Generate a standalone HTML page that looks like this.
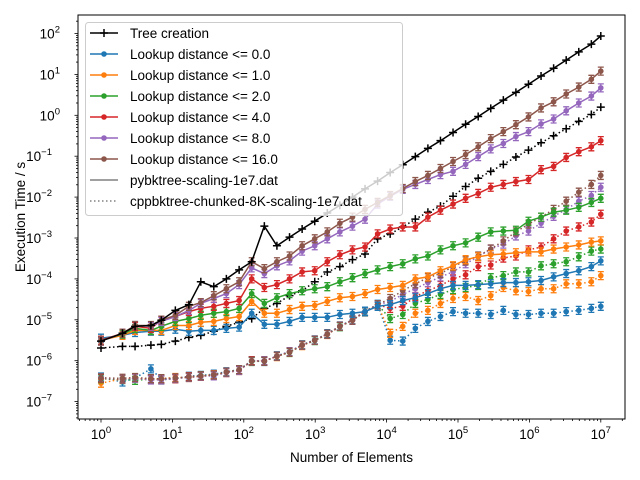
<!DOCTYPE html>
<html><head><meta charset="utf-8"><style>
html,body{margin:0;padding:0;background:#fff;}
svg{display:block;font-family:"Liberation Sans","DejaVu Sans",sans-serif;}
</style></head><body>
<svg id="chart" width="640" height="480" viewBox="0 0 640 480" xmlns="http://www.w3.org/2000/svg"></svg>
<script>
// x values (number of elements)
const xValues = [1,2,3,5,7,11,17,25,38,57,86,129,194,291,437,656,985,1477,2216,3325,4987,7481,11222,16834,25251,37876,56815,85222,127834,191751,287626,431439,647159,970739,1456109,2184164,3276246,4914369,7371554,10000000];
// series values: log10(seconds)
const treePy = [-5.52,-5.33,-5.16,-5.14,-5.01,-4.77,-4.63,-4.07,-4.19,-4.00,-3.78,-3.58,-2.71,-3.19,-2.98,-2.78,-2.59,-2.39,-2.20,-2.00,-1.80,-1.61,-1.40,-1.21,-1.01,-0.81,-0.62,-0.42,-0.22,-0.03,0.17,0.37,0.56,0.76,0.96,1.15,1.35,1.55,1.74,1.94];
const treeCpp = [-5.69,-5.65,-5.65,-5.62,-5.60,-5.52,-5.43,-5.38,-5.28,-5.16,-5.06,-4.97,-4.72,-4.60,-4.41,-4.29,-4.07,-3.83,-3.70,-3.53,-3.39,-3.02,-2.90,-2.73,-2.54,-2.37,-2.22,-1.98,-1.74,-1.54,-1.37,-1.20,-1.02,-0.85,-0.67,-0.50,-0.33,-0.15,0.02,0.20];
const py0 = [-5.45,-5.38,-5.31,-5.28,-5.28,-5.23,-5.28,-5.26,-5.26,-5.21,-5.18,-4.84,-5.11,-5.11,-5.04,-4.94,-4.94,-4.94,-4.87,-4.84,-4.80,-4.67,-4.63,-4.53,-4.46,-4.36,-4.24,-4.16,-4.16,-4.14,-4.12,-4.09,-4.09,-4.07,-4.04,-3.95,-3.87,-3.80,-3.70,-3.56];
const py1 = [-5.50,-5.38,-5.26,-5.26,-5.26,-5.14,-5.14,-5.06,-5.04,-4.97,-4.92,-4.55,-4.84,-4.84,-4.75,-4.67,-4.65,-4.55,-4.46,-4.43,-4.36,-4.26,-4.21,-4.16,-4.00,-3.95,-3.80,-3.68,-3.53,-3.46,-3.41,-3.39,-3.36,-3.34,-3.34,-3.27,-3.22,-3.17,-3.10,-3.07];
const py2 = [-5.50,-5.35,-5.21,-5.26,-5.16,-5.04,-4.97,-4.89,-4.84,-4.80,-4.72,-4.36,-4.60,-4.46,-4.36,-4.29,-4.24,-4.19,-4.07,-3.97,-3.87,-3.78,-3.70,-3.63,-3.51,-3.44,-3.29,-3.19,-3.12,-2.98,-2.85,-2.83,-2.81,-2.59,-2.49,-2.37,-2.32,-2.25,-2.13,-2.03];
const py4 = [-5.50,-5.33,-5.16,-5.21,-5.01,-4.92,-4.80,-4.72,-4.67,-4.60,-4.53,-4.00,-4.21,-4.14,-4.00,-3.83,-3.80,-3.58,-3.41,-3.29,-3.22,-2.90,-2.78,-2.73,-2.73,-2.49,-2.32,-2.17,-2.03,-1.91,-1.76,-1.69,-1.62,-1.57,-1.33,-1.25,-1.03,-0.89,-0.77,-0.62];
const py8 = [-5.52,-5.33,-5.14,-5.16,-5.04,-4.92,-4.77,-4.60,-4.48,-4.36,-4.14,-3.73,-3.87,-3.68,-3.56,-3.32,-3.19,-3.02,-2.85,-2.71,-2.54,-2.17,-1.98,-1.81,-1.69,-1.57,-1.45,-1.37,-1.20,-1.01,-0.82,-0.69,-0.52,-0.40,-0.21,-0.09,0.11,0.30,0.47,0.67];
const py16 = [-5.52,-5.33,-5.14,-5.14,-5.01,-4.89,-4.67,-4.58,-4.41,-4.24,-4.07,-3.58,-3.75,-3.58,-3.44,-3.19,-3.02,-2.85,-2.64,-2.49,-2.30,-2.13,-1.96,-1.79,-1.62,-1.47,-1.30,-1.13,-0.96,-0.77,-0.57,-0.40,-0.23,-0.04,0.18,0.33,0.52,0.69,0.88,1.08];
const cpp0 = [-6.40,-6.52,-6.42,-6.20,-6.45,-6.44,-6.38,-6.36,-6.33,-6.27,-6.22,-6.00,-6.02,-5.88,-5.78,-5.61,-5.49,-5.34,-5.15,-5.00,-4.79,-4.62,-5.50,-5.52,-5.21,-5.04,-4.92,-4.80,-4.84,-4.84,-4.87,-4.77,-4.87,-4.87,-4.84,-4.84,-4.80,-4.77,-4.72,-4.67];
const cpp1 = [-6.55,-6.44,-6.43,-6.46,-6.44,-6.41,-6.41,-6.38,-6.34,-6.29,-6.24,-6.01,-6.00,-5.90,-5.79,-5.63,-5.50,-5.36,-5.16,-5.01,-4.80,-4.63,-5.33,-5.16,-4.84,-4.77,-4.60,-4.48,-4.43,-4.53,-4.41,-4.21,-4.29,-4.31,-4.24,-4.24,-4.12,-4.12,-4.07,-3.92];
const cpp2 = [-6.44,-6.46,-6.48,-6.45,-6.47,-6.43,-6.40,-6.37,-6.36,-6.28,-6.22,-6.02,-6.01,-5.89,-5.80,-5.62,-5.51,-5.35,-5.17,-5.01,-4.81,-4.63,-4.97,-4.87,-4.60,-4.50,-4.38,-4.26,-4.21,-4.16,-3.97,-3.92,-3.83,-3.83,-3.68,-3.63,-3.58,-3.46,-3.32,-3.27];
const cpp4 = [-6.43,-6.45,-6.42,-6.44,-6.46,-6.44,-6.39,-6.38,-6.35,-6.28,-6.23,-6.00,-6.01,-5.89,-5.79,-5.62,-5.50,-5.35,-5.16,-5.01,-4.80,-4.63,-4.72,-4.67,-4.43,-4.29,-4.16,-4.00,-3.90,-3.70,-3.66,-3.49,-3.44,-3.29,-3.22,-3.02,-2.83,-2.73,-2.61,-2.42];
const cpp8 = [-6.42,-6.44,-6.43,-6.47,-6.47,-6.43,-6.41,-6.38,-6.37,-6.29,-6.24,-6.01,-6.00,-5.89,-5.78,-5.62,-5.50,-5.35,-5.16,-5.01,-4.80,-4.63,-4.55,-4.38,-4.24,-4.09,-3.95,-3.83,-3.63,-3.46,-3.27,-3.15,-2.95,-2.83,-2.64,-2.47,-2.30,-2.10,-1.96,-1.76];
const cpp16 = [-6.42,-6.43,-6.41,-6.44,-6.44,-6.42,-6.40,-6.37,-6.35,-6.28,-6.22,-6.01,-6.01,-5.89,-5.79,-5.62,-5.50,-5.35,-5.16,-5.01,-4.80,-4.63,-4.48,-4.29,-4.12,-3.97,-3.87,-3.70,-3.56,-3.44,-3.27,-3.07,-2.85,-2.66,-2.49,-2.30,-2.10,-1.88,-1.69,-1.47];
const xTickExps = [0,1,2,3,4,5,6,7];
const yTickExps = [-7,-6,-5,-4,-3,-2,-1,0,1,2];
const legendLabels = ["Tree creation","Lookup distance <= 0.0","Lookup distance <= 1.0","Lookup distance <= 2.0","Lookup distance <= 4.0","Lookup distance <= 8.0","Lookup distance <= 16.0","pybktree-scaling-1e7.dat","cppbktree-chunked-8K-scaling-1e7.dat"];

const NS="http://www.w3.org/2000/svg";
const svg=document.getElementById('chart');
const PL=78,PR=625,PT=15,PB=419;
const X0=101,XDEC=71.4,Y0=33.5,YDEC=40.9;
function xs(v){return X0+XDEC*Math.log10(v);}
function ys(l){return Y0+YDEC*(2-l);}
function mk(tag,attrs,parent){const e=document.createElementNS(NS,tag);for(const k in attrs)e.setAttribute(k,attrs[k]);(parent||svg).appendChild(e);return e;}

const C=["#1f77b4","#ff7f0e","#2ca02c","#d62728","#9467bd","#8c564b"];
const clip=mk('clipPath',{id:'pc'});mk('rect',{x:PL,y:PT,width:PR-PL,height:PB-PT},clip);
const plot=mk('g',{'clip-path':'url(#pc)'});



function drawSeries(arr,color,dotted,name,isTree){
  const g=mk('g',{},plot);
  
  
  const pts=arr.map((l,i)=>xs(xValues[i]).toFixed(1)+','+ys(l).toFixed(1)).join(' ');
  const pl=mk('polyline',{points:pts,fill:'none',stroke:color,'stroke-width':1.5});
  if(dotted){pl.setAttribute('stroke-dasharray','1.5,2.5');}
  arr.forEach((l,i)=>{
    const x=xs(xValues[i]),y=ys(l);
    if(isTree){
      const p=mk('path',{d:`M${x-4},${y}H${x+4}M${x},${y-4}V${y+4}`,stroke:color,'stroke-width':1.5},g);
      
      
    } else {
      const e=4;
      const eb=mk('path',{d:`M${x},${y-e}V${y+e}M${x-3},${y-e}H${x+3}M${x-3},${y+e}H${x+3}`,stroke:color,'stroke-width':1.3},g);
      
      
      const c=mk('circle',{cx:x,cy:y,r:2.8,fill:color},g);
      
      
    }
  });
  g.appendChild(pl);
}
const cppSeries=[cpp0,cpp1,cpp2,cpp4,cpp8,cpp16];
const pySeries=[py0,py1,py2,py4,py8,py16];
cppSeries.forEach((s,i)=>drawSeries(s,C[i],true,'cpp-lookup-series-'+i,false));
drawSeries(treeCpp,'#000',true,'cpp-tree-creation-series',true);
pySeries.forEach((s,i)=>drawSeries(s,C[i],false,'py-lookup-series-'+i,false));
drawSeries(treePy,'#000',false,'py-tree-creation-series',true);

// axes frame
const frame=mk('rect',{x:PL,y:PT,width:PR-PL,height:PB-PT,fill:'none',stroke:'#000','stroke-width':1});



// x ticks
for(let d=-1;d<=7;d++){for(let m=1;m<10;m++){const v=m*Math.pow(10,d);const x=xs(v);if(x<PL||x>PR)continue;
  const t=mk('line',{x1:x,x2:x,y1:PB,y2:PB+(m===1?3.5:2),stroke:'#000','stroke-width':0.8});
  
  }}
xTickExps.forEach(e=>{const t=mk('text',{x:xs(Math.pow(10,e)),y:PB+20,'text-anchor':'middle','font-size':13.5});
  
  
  t.appendChild(document.createTextNode('10'));
  const s=mk('tspan',{dy:-6,'font-size':9.5},t);s.textContent=String(e);});
for(let d=-8;d<=2;d++){for(let m=1;m<10;m++){const l=d+Math.log10(m);const y=ys(l);if(y<PT||y>PB)continue;
  const t=mk('line',{x1:PL-(m===1?3.5:2),x2:PL,y1:y,y2:y,stroke:'#000','stroke-width':0.8});
  
  }}
yTickExps.forEach(e=>{const t=mk('text',{x:e<0?52:60,y:ys(e)+5,'text-anchor':'end','font-size':13.5});
  
  
  t.appendChild(document.createTextNode('10'));
  const s=mk('tspan',{dy:-6,'font-size':9.5},t);s.textContent=(e<0?'\u2212':'')+Math.abs(e);});
const xl=mk('text',{x:351.5,y:462,'text-anchor':'middle','font-size':13.5});xl.textContent='Number of Elements';


const yl=mk('text',{x:0,y:0,'text-anchor':'middle','font-size':13.5,transform:'translate(25,217) rotate(-90)'});yl.textContent='Execution Time / s';



// legend
const lg=mk('g',{});


mk('rect',{x:85.5,y:22.5,width:317,height:193,rx:3,fill:'#fff','fill-opacity':0.8,stroke:'#ccc','stroke-width':1},lg);
const lcol=['#000',C[0],C[1],C[2],C[3],C[4],C[5],'#808080','#808080'];
legendLabels.forEach((lab,i)=>{
  const y=33+21*i;
  const ent=mk('g',{},lg);
  
  
  const ln=mk('line',{x1:90,x2:118,y1:y,y2:y,stroke:lcol[i],'stroke-width':1.5},ent);
  if(i===8)ln.setAttribute('stroke-dasharray','1.5,2.5');
  if(i===0)mk('path',{d:`M100,${y}h8M104,${y-4}v8`,stroke:'#000','stroke-width':1.5},ent);
  else if(i<7)mk('circle',{cx:104,cy:y,r:2.8,fill:lcol[i]},ent);
  const t=mk('text',{x:130,y:y+5,'font-size':13.5},ent);t.textContent=lab;
});
</script>
</body></html>
